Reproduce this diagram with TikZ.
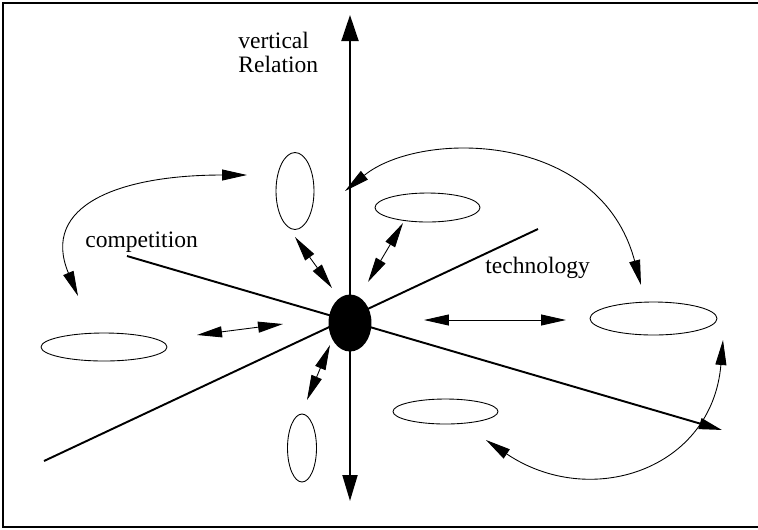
\documentclass[tikz,border=0pt]{standalone}
\usepackage{fontspec}
\setmainfont{Liberation Serif}
\usepackage{tikz}
\usetikzlibrary{shapes.geometric, arrows.meta, positioning, calc}

\begin{document}
\begin{tikzpicture}[
  x=0.02cm, y=-0.02cm,
  font=\fontsize{13.4}{16}\selectfont,
  pod/.style={ellipse, draw, line width=0.5pt, inner sep=0pt},
  hub/.style={ellipse, fill=black, inner sep=0pt, minimum width=0.86cm, minimum height=1.14cm},
  axis/.style={line width=1.1pt},
  bigtip/.style={arrows={-Triangle[length=0.52cm, width=0.32cm]}},
  link/.style={line width=0.5pt, {Triangle[length=0.5cm, width=0.22cm]}-{Triangle[length=0.5cm, width=0.22cm]}},
  tag/.style={anchor=base west, inner sep=0pt}
]
  \useasboundingbox (0,0) rectangle (758,529);
  % frame (right side cut off)
  \draw[line width=0.6pt] (758,3) -- (3,3) -- (3,527) -- (758,527);

  % axes
  \coordinate (vtop) at (350,15);
  \coordinate (vbot) at (350,501);
  \coordinate (cstart) at (127,256);
  \coordinate (cend) at (722,430);
  \coordinate (tlow) at (44,461);
  \coordinate (thigh) at (538,229);
  \draw[axis, {Triangle[length=0.52cm, width=0.34cm]}-{Triangle[length=0.52cm, width=0.3cm]}] (vtop) -- (vbot);
  \draw[axis, -{Triangle[length=0.46cm, width=0.22cm]}] (cstart) -- (cend);
  \draw[axis] (tlow) -- (thigh);

  \node[hub] (firm) at (350,323) {};

  % surrounding actors
  \node[pod, minimum width=0.76cm, minimum height=1.54cm] (supplier) at (295,191) {};
  \node[pod, minimum width=2.1cm, minimum height=0.58cm] (partner) at (427.5,207.5) {};
  \node[pod, minimum width=2.52cm, minimum height=0.56cm] (rival) at (104,347) {};
  \node[pod, minimum width=2.54cm, minimum height=0.66cm] (techfirm) at (653.5,318.5) {};
  \node[pod, minimum width=2.1cm, minimum height=0.5cm] (techlow) at (445.5,411.5) {};
  \node[pod, minimum width=0.58cm, minimum height=1.36cm] (customer) at (302,448) {};

  % labels
  \node[tag] (lblvert) at (238,48) {vertical};
  \node[tag] (lblrel) at (238,72.5) {Relation};
  \node[tag] (lblcomp) at (85,247) {competition};
  \node[tag] (lbltech) at (485,273) {technology};

  % short links to the centre
  \coordinate (a1) at (295,237); \coordinate (a2) at (332,288);
  \coordinate (b1) at (403,223); \coordinate (b2) at (368,282);
  \coordinate (c1) at (330,345); \coordinate (c2) at (307,400);
  \coordinate (d1) at (197,335); \coordinate (d2) at (283,324);
  \coordinate (e1) at (424,320); \coordinate (e2) at (566,320);
  \draw[link] (a1) -- (a2);
  \draw[link] (b1) -- (b2);
  \draw[link] (c1) -- (c2);
  \draw[link] (d1) -- (d2);
  \draw[link] (e1) -- (e2);

  % curved arrows
  \coordinate (f1) at (78,296); \coordinate (f2) at (247,175);
  \coordinate (g1) at (345,191); \coordinate (g2) at (641,285);
  \coordinate (h1) at (723,340); \coordinate (h2) at (486,440);
  \draw[link] (f1) .. controls (40,205) and (120,175) .. (f2);
  \draw[link] (g1) .. controls (420,130) and (600,130) .. (g2);
  \draw[link] (h1) .. controls (712,470) and (590,510) .. (h2);
\end{tikzpicture}
\end{document}
